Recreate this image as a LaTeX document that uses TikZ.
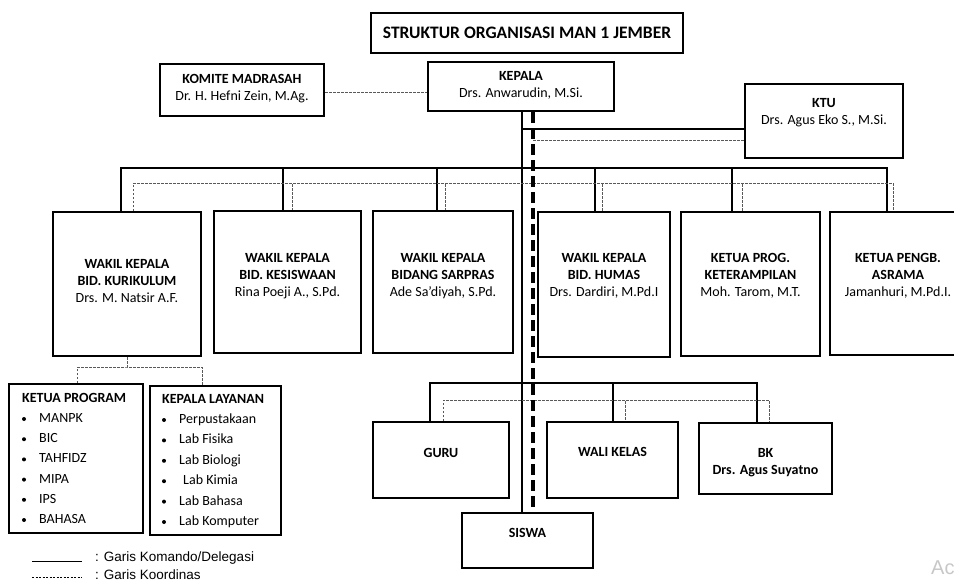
\documentclass[tikz,border=0pt]{standalone}
\usepackage{fontspec}
\setmainfont{Carlito}
\newfontfamily\legendfont{Liberation Sans}
\usepackage{tikz}
\tikzset{
  orgbox/.style={draw, line width=2pt, inner sep=0pt},
  boxtext/.style={align=center, inner sep=0pt, font=\fontsize{14}{17}\selectfont},
  listtext/.style={anchor=west, inner sep=0pt, text height=10pt, text depth=3pt, font=\fontsize{14}{17}\selectfont},
  legendtext/.style={anchor=west, inner sep=0pt, font=\legendfont\fontsize{13.5}{16}\selectfont},
  cmdline/.style={line width=1.4pt},
  cordline/.style={line width=1pt, black!65, dash pattern=on 2.5pt off 1.5pt},
  cordtrunk/.style={line width=3.6pt, dash pattern=on 11pt off 5pt},
}
\newcommand{\orgbox}[7]{
  \node[orgbox, minimum width=#4pt, minimum height=#5pt] (#1) at (#2,#3) {};
  \node[boxtext] (#1-t) at ([yshift=#6pt]#1.center) {#7};
}

\begin{document}
\begin{tikzpicture}[x=1pt, y=1pt]
\useasboundingbox (0,0) rectangle (954,-582);
\clip (0,0) rectangle (954,-582);
\orgbox{judul}{527}{-33}{312}{40}{0}{\fontsize{17.5}{21}\selectfont\textbf{STRUKTUR ORGANISASI MAN 1 JEMBER}}
\orgbox{komite}{242}{-90}{164}{52}{1}{\textbf{KOMITE MADRASAH}\\Dr. H. Hefni Zein, M.Ag.}
\orgbox{kepala}{521}{-86.5}{186}{49}{1.5}{\textbf{KEPALA}\\Drs. Anwarudin, M.Si.}
\orgbox{ktu}{824}{-121}{158}{74}{8}{\textbf{KTU}\\Drs. Agus Eko S., M.Si.}
\orgbox{wkkur}{127}{-284}{148}{144}{3}{\textbf{WAKIL KEPALA}\\\textbf{BID. KURIKULUM}\\Drs. M. Natsir A.F.}
\orgbox{wksis}{287.5}{-282}{147}{142}{6}{\textbf{WAKIL KEPALA}\\\textbf{BID. KESISWAAN}\\Rina Poeji A., S.Pd.}
\orgbox{wksar}{443}{-282}{140}{142}{6}{\textbf{WAKIL KEPALA}\\\textbf{BIDANG SARPRAS}\\Ade Sa’diyah, S.Pd.}
\orgbox{wkhum}{604}{-284.5}{132}{145}{8.5}{\textbf{WAKIL KEPALA}\\\textbf{BID. HUMAS}\\Drs. Dardiri, M.Pd.I}
\orgbox{terampil}{750.5}{-284}{139}{144}{8}{\textbf{KETUA PROG.}\\\textbf{KETERAMPILAN}\\Moh. Tarom, M.T.}
\orgbox{asrama}{898}{-283.5}{136}{143}{7.5}{\textbf{KETUA PENGB.}\\\textbf{ASRAMA}\\Jamanhuri, M.Pd.I.}
\orgbox{guru}{441}{-460}{136}{76}{7}{\textbf{GURU}}
\orgbox{wali}{612.5}{-460}{131}{76}{8}{\textbf{WALI KELAS}}
\orgbox{bk}{765.5}{-458.5}{133}{71}{-4.5}{\textbf{BK}\\\textbf{Drs. Agus Suyatno}}
\orgbox{siswa}{527.5}{-540.5}{131}{55}{7.5}{\textbf{SISWA}}

\node[orgbox, minimum width=134pt, minimum height=149pt] (prog) at (76,-458.5) {};
\node[listtext, font=\fontsize{14}{17}\selectfont\bfseries] (prog-t) at (22,-399) {KETUA PROGRAM};
\foreach \nm [count=\i] in {MANPK, BIC, TAHFIDZ, MIPA, IPS, BAHASA}{
  \fill (24,-398.8-20.2*\i) circle (2);
  \node[listtext] (prog-\i) at (39,-398.8-20.2*\i) {\nm};
}
\node[orgbox, minimum width=131pt, minimum height=149pt] (layanan) at (215.5,-460.5) {};
\node[listtext, font=\fontsize{14}{17}\selectfont\bfseries] (layanan-t) at (162,-400) {KEPALA LAYANAN};
\foreach \nm [count=\i] in {Perpustakaan, Lab Fisika, Lab Biologi, {\hspace{4pt}Lab Kimia}, Lab Bahasa, Lab Komputer}{
  \fill (164,-399.6-20.4*\i) circle (2);
  \node[listtext] (layanan-\i) at (179,-399.6-20.4*\i) {\nm};
}

\coordinate (tk) at (522,-129);
\coordinate (tc) at (533,-140);
\draw[cmdline] (kepala.south -| 522,0) -- (siswa.north -| 522,0);
\draw[cmdline] (tk) -- (ktu.west |- tk);
\draw[cmdline] (wkkur.north -| 121,0) -- ++(0,43) -| (asrama.north -| 887,0);
\foreach \b/\x in {wksis/283, wksar/437, wkhum/595, terampil/732}
  \draw[cmdline] (\x,-169) -- (\b.north -| \x,0);
\draw[cmdline] (guru.north -| 430,0) -- ++(0,38) -| (bk.north -| 757,0);
\draw[cmdline] (613,-384) -- (wali.north -| 613,0);

\draw[cordline] (komite.east |- 0,-92) -- (kepala.west |- 0,-92);
\draw[cordline] (tc) -- (ktu.west |- tc);
\draw[cordline] (wkkur.north -| 133,0) -- ++(0,28) -| (asrama.north -| 893,0);
\foreach \b/\x in {wksis/292, wksar/445, wkhum/602, terampil/742}
  \draw[cordline] (\x,-184) -- (\b.north -| \x,0);
\draw[cordline] (guru.north -| 443,0) -- ++(0,21) -| (bk.north -| 769,0);
\draw[cordline] (625,-401) -- (wali.north -| 625,0);
\draw[cordline] (wkkur.south) -- ++(0,-10) coordinate (bagi);
\draw[cordline] (prog.north -| 77,0) |- (bagi) -| (layanan.north -| 202,0);
\draw[cordtrunk] (kepala.south -| 533,0) -- (siswa.north -| 533,0);

\draw[line width=0.9pt] (32,-561) -- (82,-561);
\draw[line width=0.9pt, dash pattern=on 2pt off 1.5pt] (32,-577) -- (82,-577);
\node[legendtext] (leg1) at (95,-558) {: Garis Komando/Delegasi};
\node[legendtext] (leg2) at (95,-574.5) {: Garis Koordinas};
\node[anchor=west, inner sep=0pt, text=black!22, font=\legendfont\fontsize{20}{24}\selectfont] (wm) at (931,-568) {Ac};
\end{tikzpicture}
\end{document}
